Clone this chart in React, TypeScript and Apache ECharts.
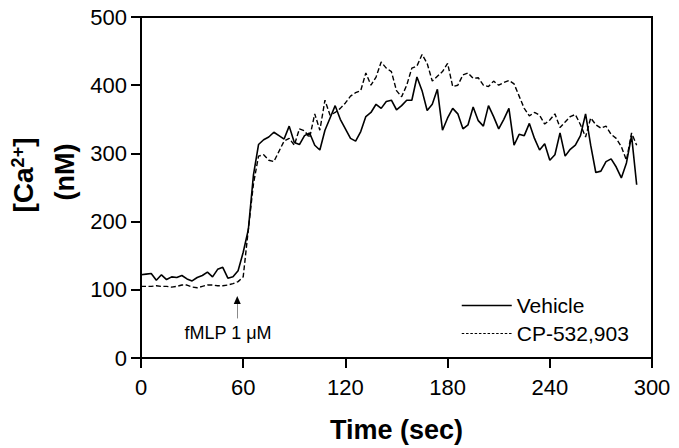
import React, { useEffect, useRef } from "react";
import * as echarts from "echarts";

// ---- data ----
const TIME = [
  0, 3, 6, 9, 12, 15, 18, 21, 24, 27, 30, 33, 36, 39, 42, 45, 48, 51, 54, 57,
  60, 63, 66, 69, 72, 75, 78, 81, 84, 87, 90, 93, 96, 99, 102, 105, 108, 111, 114, 117,
  120, 123, 126, 129, 132, 135, 138, 141, 144, 147, 150, 153, 156, 159, 162, 165, 168, 171, 174, 177,
  180, 183, 186, 189, 192, 195, 198, 201, 204, 207, 210, 213, 216, 219, 222, 225, 228, 231, 234, 237,
  240, 243, 246, 249, 252, 255, 258, 261, 264, 267, 270, 273, 276, 279, 282, 285, 288, 291,
];

const VEHICLE = [
  122, 123, 124, 114, 122, 115, 119, 118, 121, 116, 113, 118, 121, 126, 119, 130, 133, 117, 119, 128,
  155, 188, 268, 313, 320, 324, 331, 326, 321, 340, 316, 313, 326, 330, 312, 305, 334, 352, 370, 350,
  336, 322, 318, 332, 354, 360, 372, 366, 376, 378, 364, 370, 378, 378, 412, 392, 363, 372, 394, 334,
  352, 366, 358, 336, 342, 368, 348, 340, 370, 354, 336, 350, 366, 312, 328, 326, 344, 322, 305, 314,
  290, 298, 330, 296, 306, 312, 326, 358, 312, 272, 274, 288, 292, 280, 264, 286, 326, 254,
];

const CP532903 = [
  105, 105, 105, 106, 105, 105, 104, 105, 107, 107, 104, 103, 105, 107, 107, 106, 106, 107, 109, 112,
  119, 188, 255, 296, 298, 290, 288, 303, 318, 322, 312, 336, 333, 323, 358, 334, 378, 356, 360, 366,
  374, 384, 389, 392, 418, 400, 412, 434, 425, 420, 392, 383, 400, 425, 428, 445, 432, 406, 413, 420,
  432, 398, 400, 415, 418, 410, 411, 400, 398, 406, 400, 404, 407, 402, 384, 366, 355, 360, 356, 343,
  349, 358, 338, 346, 354, 357, 342, 324, 352, 342, 337, 340, 328, 322, 310, 290, 330, 312,
];

const SERIES_NAMES = ["Vehicle", "CP-532,903"];
const X_TICKS = [0, 60, 120, 180, 240, 300];
const Y_TICKS = [0, 100, 200, 300, 400, 500];
const STIMULUS_TIME = 56.5;
const STIMULUS_LABEL = "fMLP 1 \u03BCM";

const FONT = "Arial, 'Liberation Sans', Helvetica, sans-serif";

export default function App() {
  const ref = useRef<HTMLDivElement>(null);

  useEffect(() => {
    if (!ref.current) return;
    const chart = echarts.init(ref.current, null, { renderer: "svg" });
    const pairs = (vals: number[]) => vals.map((v, i) => [TIME[i], v]);

    chart.setOption({
      animation: false,
      backgroundColor: "#ffffff",
      textStyle: { fontFamily: FONT },
      grid: {
        left: 141,
        right: 27,
        top: 17,
        bottom: 90,
        show: true,
        borderColor: "#000",
        borderWidth: 2,
        backgroundColor: "transparent",
      },
      legend: {
        orient: "vertical",
        left: 456,
        top: 290,
        itemWidth: 50,
        itemHeight: 14,
        itemGap: 7,
        itemStyle: { opacity: 0 },
        textStyle: { fontSize: 21, color: "#000", fontFamily: FONT, lineHeight: 21 },
        data: [
          { name: SERIES_NAMES[0], lineStyle: { color: "#000", width: 1.5, type: "solid" } },
          { name: SERIES_NAMES[1], lineStyle: { color: "#000", width: 1, type: [2.5, 1.8] } },
        ],
      },
      xAxis: {
        type: "value",
        min: X_TICKS[0],
        max: X_TICKS[X_TICKS.length - 1],
        interval: 60,
        name: "Time (sec)",
        nameLocation: "middle",
        nameGap: 58,
        nameTextStyle: { fontSize: 27, fontWeight: "bold", color: "#000", fontFamily: FONT },
        axisLine: { show: true, lineStyle: { color: "#000", width: 2 } },
        axisTick: { show: true, length: 10, lineStyle: { color: "#000", width: 2 } },
        axisLabel: { fontSize: 22, color: "#000", margin: 18, fontFamily: FONT },
        splitLine: { show: false },
      },
      yAxis: {
        type: "value",
        min: Y_TICKS[0],
        max: Y_TICKS[Y_TICKS.length - 1],
        interval: 100,
        axisLine: { show: true, lineStyle: { color: "#000", width: 2 } },
        axisTick: { show: true, length: 10, lineStyle: { color: "#000", width: 2 } },
        axisLabel: { fontSize: 22, color: "#000", margin: 14, fontFamily: FONT },
        splitLine: { show: false },
      },
      series: [
        {
          name: SERIES_NAMES[0],
          type: "line",
          data: pairs(VEHICLE),
          symbol: "none",
          lineStyle: { color: "#000", width: 1.6, type: "solid" },
          itemStyle: { color: "#000" },
          z: 3,
          markLine: {
            silent: true,
            symbol: ["none", "none"],
            label: { show: false },
            lineStyle: { color: "#8a8a8a", width: 1, type: "solid" },
            data: [[{ coord: [STIMULUS_TIME, 58] }, { coord: [STIMULUS_TIME, 81] }]],
          },
          markPoint: {
            silent: true,
            symbol: "triangle",
            symbolSize: [7, 8],
            itemStyle: { color: "#000" },
            label: { show: false },
            data: [{ coord: [STIMULUS_TIME, 85] }],
          },
        },
        {
          name: SERIES_NAMES[1],
          type: "line",
          data: pairs(CP532903),
          symbol: "none",
          lineStyle: { color: "#000", width: 1.4, type: [5, 2.5] },
          itemStyle: { color: "#000" },
          z: 2,
        },
      ],
      graphic: [
        {
          type: "text",
          x: 23,
          y: 175,
          rotation: Math.PI / 2,
          style: {
            text: "{a|[Ca}{s|2+}{a|]}",
            rich: {
              a: { fontSize: 28, fontWeight: "bold", fontFamily: FONT, lineHeight: 28, fill: "#000", color: "#000" },
              s: { fontSize: 18, fontWeight: "bold", fontFamily: FONT, lineHeight: 14, verticalAlign: "top", fill: "#000", color: "#000" },
            },
            align: "center",
            textAlign: "center",
            verticalAlign: "middle",
            textVerticalAlign: "middle",
            fill: "#000",
          },
        },
        {
          type: "text",
          x: 65,
          y: 172,
          rotation: Math.PI / 2,
          style: {
            text: "(nM)",
            fontSize: 27,
            fontWeight: "bold",
            fontFamily: FONT,
            align: "center",
            textAlign: "center",
            verticalAlign: "middle",
            textVerticalAlign: "middle",
            fill: "#000",
          },
        },
        {
          type: "text",
          x: 228,
          y: 333,
          style: {
            text: STIMULUS_LABEL,
            fontSize: 18,
            fontFamily: FONT,
            align: "center",
            textAlign: "center",
            verticalAlign: "middle",
            textVerticalAlign: "middle",
            fill: "#000",
          },
        },
      ],
    });

    return () => {
      chart.dispose();
    };
  }, []);

  return (
    <div
      ref={ref}
      style={{ position: "fixed", left: 0, top: 0, width: 679, height: 448, background: "#fff" }}
    />
  );
}
